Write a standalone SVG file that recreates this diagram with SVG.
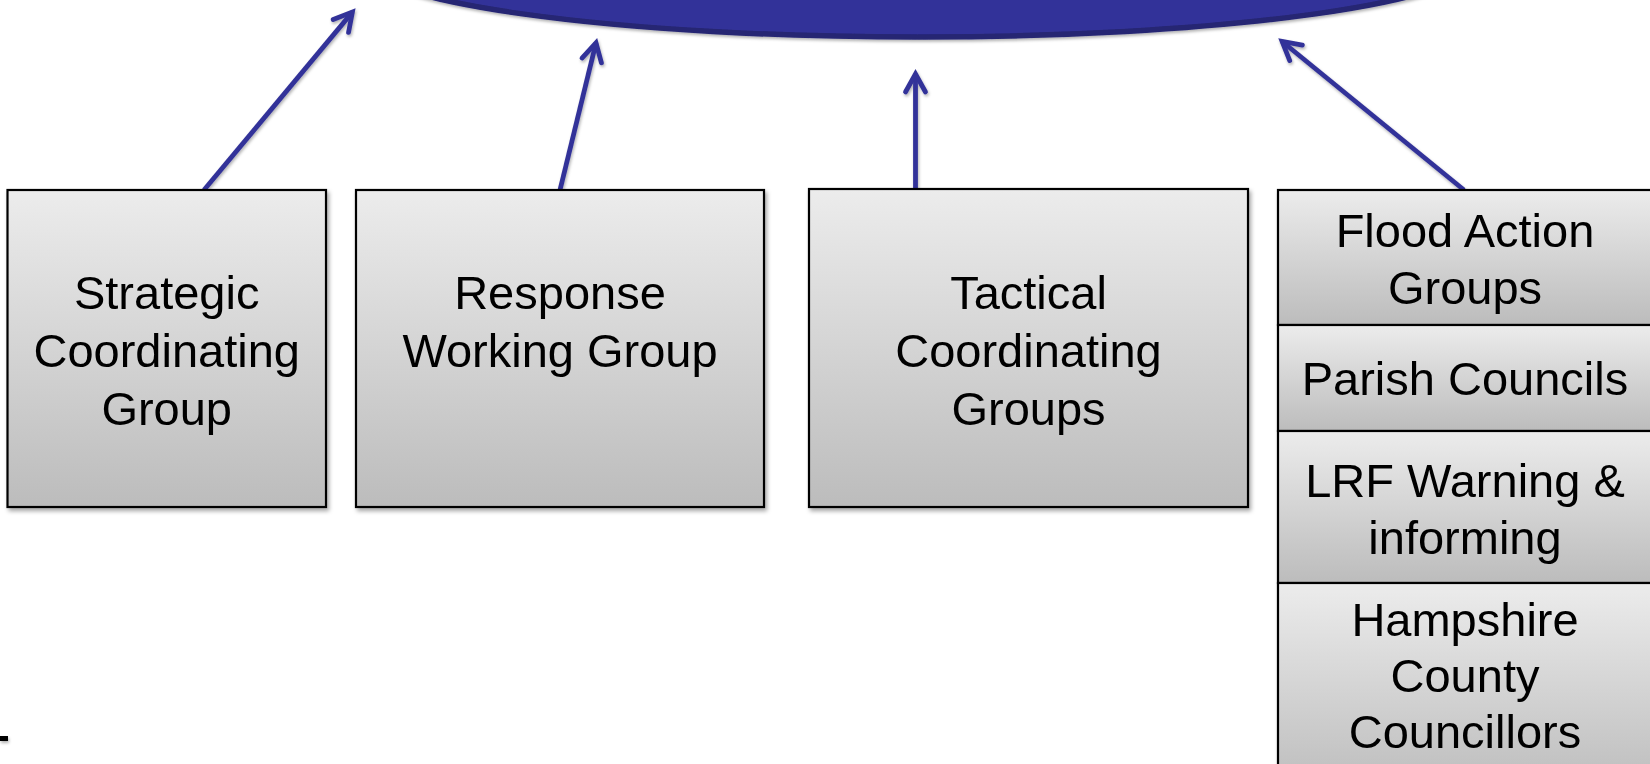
<svg xmlns="http://www.w3.org/2000/svg" width="1650" height="764" viewBox="0 0 1650 764">
<defs>
<linearGradient id="g" x1="0" y1="0" x2="0" y2="1">
<stop offset="0" stop-color="#ececec"/>
<stop offset="1" stop-color="#bcbcbc"/>
</linearGradient>
<filter id="sh" filterUnits="userSpaceOnUse" x="-50" y="-100" width="1750" height="964">
<feDropShadow dx="2" dy="3" stdDeviation="2" flood-color="#000" flood-opacity="0.35"/>
</filter>
<filter id="shl" filterUnits="userSpaceOnUse" x="-50" y="-100" width="1750" height="964">
<feDropShadow dx="1" dy="2" stdDeviation="1.5" flood-color="#000" flood-opacity="0.3"/>
</filter>
<marker id="ah" markerUnits="userSpaceOnUse" viewBox="-24 -14 30 28" markerWidth="30" markerHeight="28" refX="0" refY="0" orient="auto" overflow="visible">
<path d="M-18,-10 L0,0 L-18,10" fill="none" stroke="#333399" stroke-width="4.8" stroke-linecap="round" stroke-linejoin="miter"/>
</marker>
<style>
.box{fill:url(#g);stroke:#000;stroke-width:2.2}
.t{font-family:"Liberation Sans",Arial,sans-serif;font-size:47px;fill:#000;text-anchor:middle}
.c{fill:none;stroke:#333399;stroke-width:4.8;marker-end:url(#ah)}
</style>
</defs>
<rect width="1650" height="764" fill="#fff"/>
<g id="top-ellipse" filter="url(#shl)">
<ellipse cx="919" cy="-42" rx="561" ry="79" fill="#333399" stroke="#262673" stroke-width="5.5"/>
</g>
<g id="connectors" filter="url(#shl)">
<line class="c" x1="204" y1="190" x2="352.4" y2="12.1"/>
<line class="c" x1="560" y1="190" x2="596" y2="42.9"/>
<line class="c" x1="915.5" y1="189" x2="915.5" y2="74"/>
<line class="c" x1="1464" y1="190" x2="1282.1" y2="41.5"/>
</g>
<g id="strategic" filter="url(#sh)">
<rect class="box" x="7.5" y="190" width="318.5" height="317"/>
<text class="t" x="166.7" y="309">Strategic</text>
<text class="t" x="166.7" y="367">Coordinating</text>
<text class="t" x="166.7" y="425">Group</text>
</g>
<g id="response" filter="url(#sh)">
<rect class="box" x="356" y="190" width="408" height="317"/>
<text class="t" x="560" y="309">Response</text>
<text class="t" x="560" y="367">Working Group</text>
</g>
<g id="tactical" filter="url(#sh)">
<rect class="box" x="809" y="189" width="439" height="318"/>
<text class="t" x="1028.5" y="309">Tactical</text>
<text class="t" x="1028.5" y="367">Coordinating</text>
<text class="t" x="1028.5" y="425">Groups</text>
</g>
<g id="community" filter="url(#sh)">
<g id="flood-action">
<rect class="box" x="1278" y="190" width="374" height="135"/>
<text class="t" x="1465" y="247">Flood Action</text>
<text class="t" x="1465" y="304">Groups</text>
</g>
<g id="parish">
<rect class="box" x="1278" y="325" width="374" height="106"/>
<text class="t" x="1465" y="395">Parish Councils</text>
</g>
<g id="lrf">
<rect class="box" x="1278" y="431" width="374" height="152"/>
<text class="t" x="1465" y="497">LRF Warning &amp;</text>
<text class="t" x="1465" y="554">informing</text>
</g>
<g id="hampshire">
<rect class="box" x="1278" y="583" width="374" height="210"/>
<text class="t" x="1465" y="636">Hampshire</text>
<text class="t" x="1465" y="692">County</text>
<text class="t" x="1465" y="748">Councillors</text>
</g>
</g>
<g id="edge-mark" filter="url(#shl)">
<rect x="0" y="736" width="8" height="5" fill="#000"/>
</g>
</svg>
